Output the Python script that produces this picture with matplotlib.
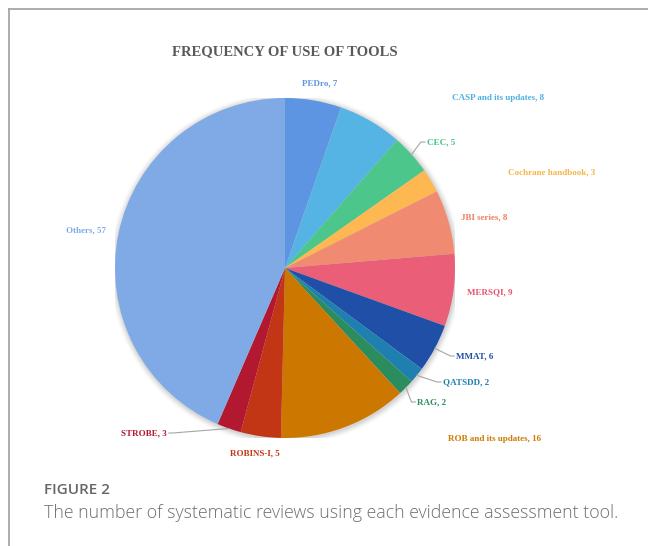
import matplotlib
matplotlib.use("Agg")
import matplotlib.pyplot as plt
from matplotlib.lines import Line2D
from matplotlib.patches import Circle
import numpy as np

# ---- data ----
tools = ["PEDro", "CASP and its updates", "CEC", "Cochrane handbook", "JBI series",
         "MERSQI", "MMAT", "QATSDD", "RAG", "ROB and its updates", "ROBINS-I",
         "STROBE", "Others"]
counts = [7, 8, 5, 3, 8, 9, 6, 2, 2, 16, 5, 3, 57]
colors = ["#5E95E2", "#55B4E3", "#4CC68A", "#FDB852", "#F08A70", "#EA5E78",
          "#1F4FA6", "#1F80B0", "#2B8C5E", "#CC7700", "#C23616", "#B21830", "#7FAAE6"]
label_colors = ["#5E95E2", "#4FB0E0", "#45C084", "#F8B448", "#EC7F64", "#E4566F",
                "#1F4FA6", "#1F80B0", "#2B8C5E", "#CC7A00", "#C23616", "#B21830", "#7FAAE6"]

# label centres in pixels (x, y from top-left) and leader side
label_pos = [(320, 83), (498, 98), (441, 142), (552, 172), (484, 217), (490, 292),
             (475, 356), (466, 382), (432, 402), (494, 439), (255, 453), (144, 433),
             (86, 230)]
leader = [None, None, "left", None, None, None, "left", "left", "left", None, None,
          "right", None]

W, H = 648, 546
fig = plt.figure(figsize=(W / 100, H / 100), dpi=100)

def fx(x):
    return x / W

def fy(y):
    return 1 - y / H

# frame lines
fig.add_artist(Line2D([fx(9), 1], [fy(9), fy(9)], color="#a6a6a6", lw=1.3,
                      transform=fig.transFigure))
fig.add_artist(Line2D([fx(9), fx(9)], [fy(9), 0], color="#a6a6a6", lw=1.3,
                      transform=fig.transFigure))

cx, cy, R = 285, 268, 170
ax = fig.add_axes([fx(cx - R), fy(cy + R), 2 * R / W, 2 * R / H])
ax.axis("off")

# soft shadow
for i, a in enumerate(np.linspace(0.10, 0.02, 6)):
    ax.add_patch(Circle((0.004, -0.006), 1.0 + 0.006 * (i + 1), color="#7f7f7f",
                        alpha=a, lw=0, zorder=0))

wedges, _ = ax.pie(counts, colors=colors, startangle=90, counterclock=False,
                   radius=1.0, wedgeprops=dict(linewidth=0))
for w in wedges:
    w.set_zorder(2)
ax.set_xlim(-1, 1)
ax.set_ylim(-1, 1)
ax.set_aspect("equal")

fig.text(fx(285), fy(52), "FREQUENCY OF USE OF TOOLS", ha="center", va="center",
         family="Liberation Serif", fontweight="bold", fontsize=10.5, color="#595959")

texts = []
for name, c, col, pos in zip(tools, counts, label_colors, label_pos):
    t = fig.text(fx(pos[0]), fy(pos[1]), f"{name}, {c}", ha="center", va="center",
                 family="Liberation Serif", fontweight="bold", fontsize=6.5, color=col)
    texts.append(t)

fig.canvas.draw()
renderer = fig.canvas.get_renderer()
total = sum(counts)
cum = 0
for i, c in enumerate(counts):
    mid = np.deg2rad(90 - 360 * (cum + c / 2) / total)
    cum += c
    if leader[i] is None:
        continue
    ax_x = cx + R * np.cos(mid)
    ax_y = cy - R * np.sin(mid)
    bb = texts[i].get_window_extent(renderer)
    ty = label_pos[i][1]
    if leader[i] == "left":
        lx = bb.x0 / fig.dpi * 100
        xs = [ax_x, lx - 6, lx - 2]
    else:
        rx = bb.x1 / fig.dpi * 100
        xs = [ax_x, rx + 6, rx + 2]
    ys = [ax_y, ty, ty]
    fig.add_artist(Line2D([fx(v) for v in xs], [fy(v) for v in ys], color="#a6a6a6",
                          lw=0.8, transform=fig.transFigure))

fig.text(fx(44), fy(490), "FIGURE 2", ha="left", va="center", family="Open Sans",
         fontweight="semibold", fontsize=11, color="#666666")
fig.text(fx(44), fy(513), "The number of systematic reviews using each evidence assessment tool.",
         ha="left", va="center", family="Open Sans", fontweight="light", fontsize=12.8,
         color="#6e6e6e")

fig.savefig("out.png", dpi=100)
